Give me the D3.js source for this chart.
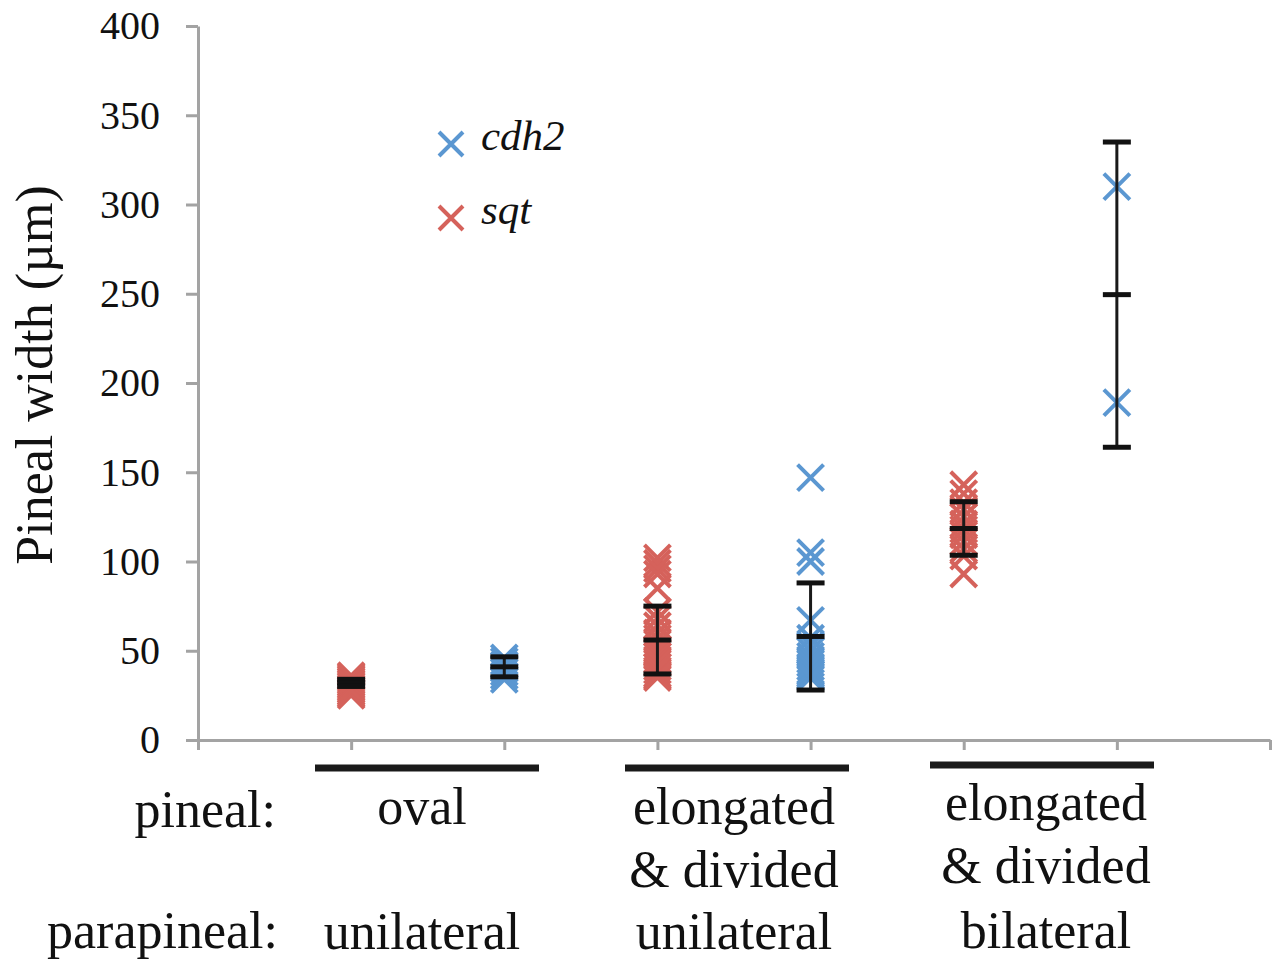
<!DOCTYPE html>
<html>
<head>
<meta charset="utf-8">
<script src="https://cdn.jsdelivr.net/npm/d3@7"></script>
<style>
  body { margin: 0; background: #fff; }
  svg { display: block; font-family: "Liberation Serif", "DejaVu Serif", serif; }
</style>
</head>
<body>
<svg width="1280" height="960"></svg>
<script>
// groups along the x axis (category slot 1..6)
const groupSlots = [1, 2, 3, 4, 5, 6];
const groupSeries = ['sqt', 'cdh2', 'sqt', 'cdh2', 'sqt', 'cdh2'];

const ovalSqt = [25, 26, 27, 28, 29, 30, 31, 32, 33, 34, 35, 36];
const ovalCdh2 = [34, 36, 38, 40, 42, 44, 46];
const elongUniSqt = [102, 99, 96, 93, 85, 72, 68, 64, 60, 57, 54, 51, 49, 47, 45, 43, 41, 39, 37, 36, 35];
const elongUniCdh2 = [147, 105, 100, 67, 57, 53, 50, 47, 45, 43, 41, 39, 38, 37, 36, 35];
const elongBiSqt = [143, 138, 133, 129, 125, 121, 118, 115, 111, 107, 103, 93];
const elongBiCdh2 = [310, 189];

const groupValues = [ovalSqt, ovalCdh2, elongUniSqt, elongUniCdh2, elongBiSqt, elongBiCdh2];

// mean and standard deviation bars
const meanValues = [32, 41, 56, 58, 118.5, 249.5];
const sdValues = [2, 5.6, 19, 30, 15, 85.5];

const yTicks = [0, 50, 100, 150, 200, 250, 300, 350, 400];

const seriesColor = { cdh2: '#5b97d1', sqt: '#d5625b' };

const svg = d3.select('svg');

const x = d3.scaleLinear().domain([0, 7]).range([198, 1270]);
const y = d3.scaleLinear().domain([0, 400]).range([740, 26]);

// axes
const yAxis = svg.append('g')
  .attr('transform', `translate(${x(0)},0)`)
  .call(d3.axisLeft(y).tickValues(yTicks).tickSize(12).tickSizeOuter(0).tickPadding(26));

const xAxis = svg.append('g')
  .attr('transform', `translate(0,${y(0)})`)
  .call(d3.axisBottom(x).ticks(7).tickFormat('').tickSize(10).tickSizeOuter(0));

[yAxis, xAxis].forEach((ax) => {
  ax.select('.domain').attr('stroke', '#a3a3a3').attr('stroke-width', 3);
  ax.selectAll('.tick line').attr('stroke', '#a3a3a3').attr('stroke-width', 3);
});

yAxis.selectAll('.tick text')
  .attr('fill', '#111')
  .style('font-size', '40px')
  .style('font-family', '"Liberation Serif", serif');

svg.append('text')
  .attr('transform', `translate(52,${(y(0) + y(400)) / 2 - 8}) rotate(-90)`)
  .attr('text-anchor', 'middle')
  .attr('fill', '#111')
  .style('font-size', '52px')
  .text('Pineal width (µm)');

// x marker
const cross = (sel, s) => sel.append('path')
  .attr('d', `M${-s},${-s}L${s},${s}M${-s},${s}L${s},${-s}`)
  .attr('fill', 'none')
  .attr('stroke-width', 4);

const points = groupSlots.flatMap((slot, i) =>
  groupValues[i].map((v) => ({ slot, v, series: groupSeries[i] })));

svg.append('g').selectAll('g')
  .data(points)
  .enter()
  .append('g')
  .attr('transform', (d) => `translate(${x(d.slot)},${y(d.v)})`)
  .each(function (d) {
    cross(d3.select(this), 13).attr('stroke', seriesColor[d.series]);
  });

// error bars
const bars = svg.append('g').selectAll('g')
  .data(groupSlots.map((slot, i) => ({ slot, m: meanValues[i], sd: sdValues[i] })))
  .enter()
  .append('g')
  .attr('transform', (d) => `translate(${x(d.slot)},0)`);

bars.append('line')
  .attr('y1', (d) => y(d.m + d.sd))
  .attr('y2', (d) => y(d.m - d.sd))
  .attr('stroke', '#1a1a1a')
  .attr('stroke-width', 3);

[(d) => d.m + d.sd, (d) => d.m, (d) => d.m - d.sd].forEach((f) => {
  bars.append('line')
    .attr('x1', -14).attr('x2', 14)
    .attr('y1', (d) => y(f(d)))
    .attr('y2', (d) => y(f(d)))
    .attr('stroke', '#111')
    .attr('stroke-width', 5);
});

// legend
const legendItems = ['cdh2', 'sqt'];
const legend = svg.append('g').selectAll('g')
  .data(legendItems)
  .enter()
  .append('g')
  .attr('transform', (d, i) => `translate(451,${144 + i * 74})`);

legend.each(function (d) {
  cross(d3.select(this), 12).attr('stroke', seriesColor[d]);
});

legend.append('text')
  .attr('x', 30)
  .attr('y', 6)
  .attr('fill', '#111')
  .style('font-size', '43px')
  .style('font-style', 'italic')
  .text((d) => d);

// category labels under the axis
const pinealLabels = [['oval'], ['elongated', '& divided'], ['elongated', '& divided']];
const parapinealLabels = ['unilateral', 'unilateral', 'bilateral'];
const labelCenters = [422, 734, 1046];
const barCenters = [427, 737, 1042];
const barY = [768, 768, 765];
const labelShift = [0, 0, -4];

barCenters.forEach((c, i) => {
  svg.append('line')
    .attr('x1', c - 112).attr('x2', c + 112)
    .attr('y1', barY[i]).attr('y2', barY[i])
    .attr('stroke', '#1a1a1a')
    .attr('stroke-width', 7);
});

const labelText = (tx, ty, s, anchor) => svg.append('text')
  .attr('x', tx)
  .attr('y', ty)
  .attr('text-anchor', anchor || 'middle')
  .attr('fill', '#111')
  .style('font-size', '52px')
  .text(s);

labelText(276, 827, 'pineal:', 'end');
labelText(278, 948, 'parapineal:', 'end');

pinealLabels.forEach((lines, i) => {
  lines.forEach((s, j) => {
    labelText(labelCenters[i], 824 + labelShift[i] + j * 63, s);
  });
  labelText(labelCenters[i], 949 - (i === 2 ? 1 : 0), parapinealLabels[i]);
});
</script>
</body>
</html>
